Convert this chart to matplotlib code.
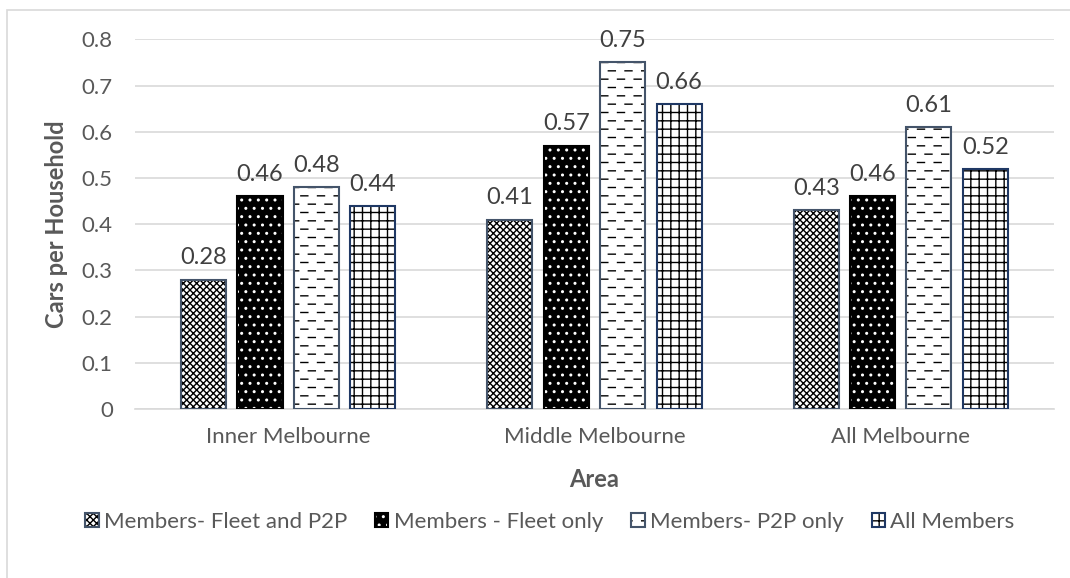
import warnings
import numpy as np
import matplotlib
matplotlib.use('Agg')
import matplotlib.pyplot as plt
from matplotlib import hatch as mhatch
from matplotlib.path import Path
from matplotlib.patches import Rectangle
from matplotlib.legend_handler import HandlerTuple

warnings.filterwarnings('ignore')

# 数据
areas = ['Inner Melbourne', 'Middle Melbourne', 'All Melbourne']
series_names = ['Members- Fleet and P2P', 'Members - Fleet only',
                'Members- P2P only', 'All Members']
fleet_and_p2p = [0.28, 0.41, 0.43]
fleet_only = [0.46, 0.57, 0.46]
p2p_only = [0.48, 0.75, 0.61]
all_members = [0.44, 0.66, 0.52]
y_ticks = [0, 0.1, 0.2, 0.3, 0.4, 0.5, 0.6, 0.7, 0.8]


class DashHatch(mhatch.HatchPatternBase):
    """ '=' 断续横线，隔行错开 """

    def __init__(self, hatch, density):
        self.num_rows = int(hatch.count('=') * density)
        self.num_dashes = 6
        self.num_vertices = self.num_rows * self.num_dashes * 2

    def set_vertices_and_codes(self, vertices, codes):
        step = 1.0 / self.num_dashes
        starts = []
        ends = []
        for r in range(self.num_rows):
            y = (r + 0.5) / self.num_rows
            shift = 0.05 if r % 2 == 0 else 0.5
            for k in range(self.num_dashes):
                x0 = (k + shift) * step
                starts.append((x0, y))
                ends.append((x0 + 0.42 * step, y))
        vertices[0::2] = starts
        vertices[1::2] = ends
        codes[0::2] = Path.MOVETO
        codes[1::2] = Path.LINETO


mhatch._hatch_types.append(DashHatch)

plt.rcParams['font.family'] = ['Lato', 'DejaVu Sans']
plt.rcParams['hatch.linewidth'] = 1.0

fig = plt.figure(figsize=(10.7, 5.78), dpi=100)
ax = fig.add_axes([0.1262, 0.2924, 0.8588, 0.6396])

# 每组四根柱子：填充层(带花纹) + 外框层
styles = [
    dict(face='white', hatch_color='black', hatch='xxxxx', edge='#44546A'),
    dict(face='black', hatch_color='white', hatch='..', edge='black'),
    dict(face='white', hatch_color='black', hatch='==', edge='#44546A'),
    dict(face='white', hatch_color='black', hatch='++', edge='#1F3864'),
]
values = [fleet_and_p2p, fleet_only, p2p_only, all_members]
x = np.arange(len(areas))
pitch = 0.184
width = 0.147

handles = []
for i, (vals, st) in enumerate(zip(values, styles)):
    pos = x + (i - 1.5) * pitch
    fill = ax.bar(pos, vals, width, color=st['face'], edgecolor=st['hatch_color'],
                  linewidth=0, hatch=st['hatch'], zorder=2)
    outline = ax.bar(pos, vals, width, facecolor='none', edgecolor=st['edge'],
                     linewidth=1.5, zorder=3)
    ax.bar_label(outline, labels=['%.2f' % v for v in vals], padding=8,
                 fontsize=17, color='#404040')
    handles.append((fill[0], outline[0]))

ax.set_xlim(-0.5, 2.5)
ax.set_ylim(0, 0.8)
ax.set_yticks(y_ticks)
ax.set_yticklabels(['0' if v == 0 else '%.1f' % v for v in y_ticks])
ax.set_xticks(x)
ax.set_xticklabels(areas)
ax.tick_params(axis='both', length=0, labelsize=16, labelcolor='#595959')
ax.tick_params(axis='y', pad=16)
ax.tick_params(axis='x', pad=13)
ax.grid(axis='y', color='#D9D9D9', linewidth=1.2, zorder=0)
ax.set_axisbelow(True)
for s in ['top', 'right', 'left']:
    ax.spines[s].set_visible(False)
ax.spines['bottom'].set_color('#D9D9D9')
ax.spines['bottom'].set_linewidth(1.2)

ax.set_xlabel('Area', fontsize=17, fontweight='bold', color='#595959', va='center')
ax.xaxis.set_label_coords(0.5, -0.192)
fig.text(57 / 1070, 1 - 224 / 578, 'Cars per Household', rotation=90,
         ha='center', va='center', fontsize=17, fontweight='bold', color='#595959')

leg = fig.legend(handles, series_names, handler_map={tuple: HandlerTuple(ndivide=1)},
                 loc='center', bbox_to_anchor=(0.514, 1 - 522 / 578), ncol=4,
                 frameon=False, fontsize=16, handlelength=0.6, handleheight=0.6,
                 handletextpad=0.25, columnspacing=1.25, labelcolor='#595959')

# 外边框
fig.add_artist(Rectangle((7 / 1070, -0.1), 2, 1.1 - 10 / 578, transform=fig.transFigure,
                         fill=False, edgecolor='#D9D9D9', linewidth=1.2))

fig.savefig('out.png', dpi=100)
